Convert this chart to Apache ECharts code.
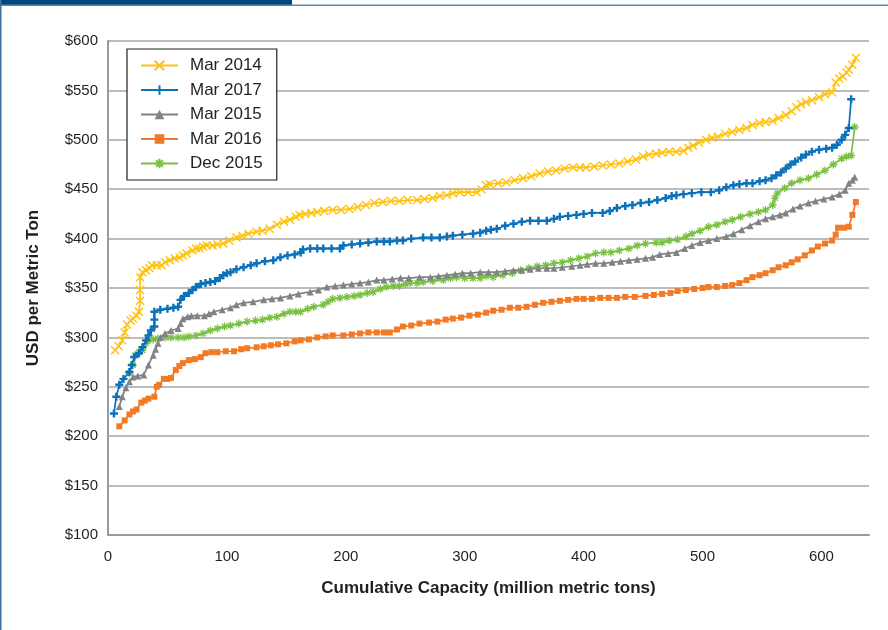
<!DOCTYPE html>
<html>
<head>
<meta charset="utf-8">
<script src="https://cdn.jsdelivr.net/npm/echarts@6/dist/echarts.min.js"></script>
<style>
html,body{margin:0;padding:0;background:#fff;}
#chart{width:888px;height:630px;}
</style>
</head>
<body>
<div id="chart"></div>
<script>
// ---- Data (cumulative capacity in million metric tons, USD per metric ton) ----
var seriesNames = ['Mar 2014', 'Mar 2017', 'Mar 2015', 'Mar 2016', 'Dec 2015'];
var yTickLabels = ['$100','$150','$200','$250','$300','$350','$400','$450','$500','$550','$600'];
var xTickLabels = ['0','100','200','300','400','500','600'];

var mar2014 = [[6,287],[9,291],[12,297],[14,305],[16,313],[19,317],[21,319],[24,322],[26,326],[27,337],[27,348],[27,361],[29,366],[32,368],[35,370],[37,373],[41,373],[45,373],[48,376],[52,378],[56,380],[60,381],[63,383],[66,385],[71,388],[74,390],[77,390],[80,392],[83,393],[88,393],[92,394],[97,395],[102,398],[108,401],[113,403],[118,405],[125,407],[130,408],[136,410],[142,414],[148,417],[153,419],[158,422],[161,424],[166,425],[171,426],[176,427],[182,428],[189,429],[196,429],[203,430],[210,432],[217,434],[224,436],[231,437],[238,438],[245,438],[252,439],[260,439],[266,440],[273,441],[279,443],[285,444],[290,446],[296,447],[303,447],[310,447],[314,450],[318,454],[321,455],[328,456],[335,457],[342,459],[349,461],[356,463],[363,466],[370,468],[377,469],[384,471],[391,472],[397,472],[402,472],[409,473],[416,474],[423,475],[430,476],[437,478],[444,480],[450,483],[455,485],[461,486],[466,487],[472,488],[478,488],[484,489],[488,492],[492,494],[497,497],[503,500],[508,502],[513,503],[519,506],[525,508],[531,510],[537,512],[542,515],[548,517],[553,518],[559,519],[564,522],[570,525],[575,529],[579,533],[583,536],[587,538],[592,540],[598,543],[603,546],[609,548],[612,558],[615,562],[618,564],[621,568],[623,571],[626,576],[629,583]];

var mar2017 = [[5,223],[7,240],[9.5,252],[13,258],[18,265],[20,272],[22,280],[26,284],[29,290],[32,297],[34,302],[36,307],[39,311],[39,318],[39,326],[44,328],[50,329],[55,330],[59,331],[61,338],[64,342],[68,345],[71,348],[74,351],[78,354],[82,355],[86,356],[90,357],[94,360],[97,363],[100,365],[103,366],[108,369],[114,371],[120,373],[125,375],[132,377],[139,378],[145,381],[151,383],[157,384],[162,386],[164,389],[170,390],[176,390],[181,390],[188,390],[195,390],[198,393],[205,394],[212,395],[219,396],[226,397],[232,397],[237,397],[243,398],[248,398],[255,400],[265,401],[272,401],[279,401],[285,402],[290,403],[298,404],[307,405],[313,406],[318,408],[322,409],[327,410],[334,413],[341,415],[348,417],[355,418],[362,418],[369,418],[375,420],[380,422],[387,423],[394,424],[400,425],[407,426],[416,426],[422,428],[428,431],[435,433],[441,434],[448,436],[455,437],[462,439],[469,441],[474,443],[478,444],[484,445],[491,446],[499,447],[507,447],[514,449],[520,452],[526,454],[531,455],[537,456],[542,456],[548,458],[553,459],[558,461],[562,464],[566,467],[570,471],[574,475],[578,478],[583,482],[587,485],[592,488],[598,490],[604,491],[609,492],[613,495],[617,500],[620,505],[623,512],[625,541]];

var mar2015 = [[9.5,230],[12,240],[15,249],[18,255],[21,260],[25,261],[30,262],[34,272],[38,282],[40,288],[42,294],[44,300],[48,304],[53,307],[59,309],[61,314],[63,319],[67,321],[70,322],[75,322],[81,322],[85,324],[89,326],[96,328],[103,330],[108,333],[114,335],[122,336],[131,338],[138,339],[145,340],[153,342],[160,344],[170,346],[177,348],[184,351],[191,352],[198,353],[205,354],[212,355],[219,356],[226,358],[232,358],[239,359],[246,360],[253,360],[262,361],[271,361],[278,362],[285,363],[292,364],[298,365],[305,365],[313,366],[320,366],[327,366],[334,367],[341,368],[348,368],[355,369],[362,370],[369,370],[375,370],[382,371],[390,372],[397,373],[403,374],[410,375],[417,375],[424,376],[431,377],[438,378],[445,379],[452,380],[458,381],[464,384],[471,385],[478,386],[485,390],[491,393],[498,396],[505,398],[512,400],[520,402],[526,405],[533,409],[540,413],[547,417],[553,420],[559,422],[565,424],[570,426],[576,430],[582,433],[589,436],[595,438],[602,440],[609,442],[615,445],[620,449],[623,456],[626,459],[628,462]];

var mar2016 = [[9.5,210],[14,216],[18,222],[21,225],[24,227],[28,234],[31,236],[34,238],[39,240],[41,250],[43,252],[47,258],[50,258],[53,259],[57,267],[60,271],[63,274],[68,277],[73,278],[78,280],[82,284],[87,285],[92,285],[99,286],[106,286],[112,288],[117,289],[125,290],[131,291],[137,292],[143,293],[150,294],[157,296],[162,297],[169,298],[176,300],[183,301],[189,302],[198,302],[205,303],[212,304],[219,305],[226,305],[232,305],[237,305],[243,308],[248,311],[255,312],[262,314],[270,315],[277,316],[284,318],[290,319],[297,320],[304,322],[311,323],[318,325],[324,327],[331,328],[338,330],[345,330],[352,331],[359,333],[366,335],[373,336],[380,337],[387,338],[394,339],[400,339],[407,339],[414,340],[421,340],[428,340],[435,341],[443,341],[452,342],[459,343],[466,344],[473,345],[479,347],[486,348],[493,349],[500,350],[505,351],[512,351],[519,352],[525,353],[531,355],[537,358],[542,361],[548,363],[553,365],[559,368],[564,371],[570,373],[575,376],[580,379],[586,383],[592,388],[597,392],[603,395],[609,398],[612,404],[614,411],[619,411],[623,412],[626,424],[629,437]];

var dec2015 = [[18,264],[21,272],[23,282],[26,285],[29,287],[32,294],[34,297],[38,298],[42,299],[48,300],[53,300],[59,300],[64,300],[68,301],[74,302],[80,304],[86,307],[92,309],[98,311],[103,312],[110,314],[117,316],[124,317],[130,318],[136,320],[142,321],[148,324],[153,326],[158,326],[162,326],[168,329],[173,331],[181,333],[185,336],[189,339],[195,340],[201,341],[207,342],[212,343],[218,345],[223,346],[229,349],[234,351],[240,352],[245,352],[250,354],[254,355],[260,355],[265,356],[273,357],[282,358],[288,360],[293,361],[300,360],[307,360],[313,360],[318,362],[324,361],[332,363],[340,365],[347,368],[354,370],[361,372],[368,373],[375,375],[382,376],[389,378],[396,380],[403,382],[410,385],[417,386],[423,386],[430,388],[438,390],[445,393],[452,395],[461,396],[466,396],[472,398],[479,399],[486,402],[491,405],[498,408],[505,412],[512,414],[519,417],[525,419],[532,422],[540,425],[547,427],[553,429],[559,434],[561,441],[563,446],[569,451],[575,456],[582,459],[589,461],[596,465],[603,469],[610,475],[617,481],[621,483],[625,484],[628,513]];

var seriesData = [mar2014, mar2017, mar2015, mar2016, dec2015];

// ---- Styles ----
var colors = ['#FFC20E', '#0A71BA', '#808285', '#F37A24', '#7AC143'];
var symbols = [
  'path://M0,0L10,10M10,0L0,10',
  'path://M5,0L5,10M0,5L10,5',
  'triangle',
  'rect',
  'path://M5,0L5,10M0,5L10,5M1.5,1.5L8.5,8.5M8.5,1.5L1.5,8.5'
];
var symbolSizes = [8, 8, 7, 6, 8];
var borderWidths = [1.4, 2.4, 0, 0, 1.3];

var chart = echarts.init(document.getElementById('chart'), null, {renderer: 'canvas'});
var font = '"Liberation Sans", Arial, Helvetica, sans-serif';

var series = seriesNames.map(function (name, i) {
  return {
    name: name,
    type: 'line',
    data: seriesData[i],
    symbol: symbols[i],
    symbolSize: symbolSizes[i],
    showAllSymbol: true,
    lineStyle: {color: colors[i], width: 1.7},
    itemStyle: {color: colors[i], borderColor: colors[i], borderWidth: borderWidths[i]},
    emphasis: {disabled: true},
    z: 10 - i
  };
});

chart.setOption({
  animation: false,
  backgroundColor: '#ffffff',
  grid: {left: 108, top: 41, right: 19, bottom: 95, containLabel: false},
  legend: {
    orient: 'vertical',
    left: 127,
    top: 49,
    data: seriesNames,
    itemWidth: 37,
    itemHeight: 12,
    itemGap: 7.5,
    padding: [8, 14, 8, 13],
    borderColor: '#231F20',
    borderWidth: 1.2,
    backgroundColor: '#ffffff',
    textStyle: {fontFamily: font, fontSize: 17, color: '#231F20', padding: [0, 0, 0, 7]}
  },
  xAxis: {
    type: 'value',
    min: 0,
    max: 640,
    interval: 100,
    name: 'Cumulative Capacity (million metric tons)',
    nameLocation: 'middle',
    nameGap: 45,
    nameTextStyle: {fontFamily: font, fontSize: 17, fontWeight: 'bold', color: '#231F20'},
    axisLine: {show: true, lineStyle: {color: '#9A9A9A', width: 2}},
    axisTick: {show: false},
    splitLine: {show: false},
    axisLabel: {
      fontFamily: font, fontSize: 15, color: '#231F20', margin: 14,
      formatter: function (v) { return xTickLabels.indexOf(String(v)) >= 0 ? String(v) : ''; }
    }
  },
  yAxis: {
    type: 'value',
    min: 100,
    max: 600,
    interval: 50,
    name: 'USD per Metric Ton',
    nameLocation: 'middle',
    nameGap: 66,
    nameTextStyle: {fontFamily: font, fontSize: 17, fontWeight: 'bold', color: '#231F20'},
    axisLine: {show: true, lineStyle: {color: '#9A9A9A', width: 2}},
    axisTick: {show: false},
    splitLine: {show: true, lineStyle: {color: '#A6A6A6', width: 1.5}},
    axisLabel: {
      fontFamily: font, fontSize: 15, color: '#231F20', margin: 10,
      formatter: function (v) { return yTickLabels[Math.round((v - 100) / 50)]; }
    }
  },
  graphic: [
    {type: 'rect', shape: {x: 0, y: 0, width: 292, height: 5}, style: {fill: '#00467F'}, z: 100},
    {type: 'rect', shape: {x: 0, y: 4.5, width: 888, height: 1.5}, style: {fill: '#5B87B3'}, z: 100},
    {type: 'rect', shape: {x: 0, y: 0, width: 1.5, height: 630}, style: {fill: '#3F6F9E'}, z: 100}
  ],
  series: series
});
</script>
</body>
</html>
